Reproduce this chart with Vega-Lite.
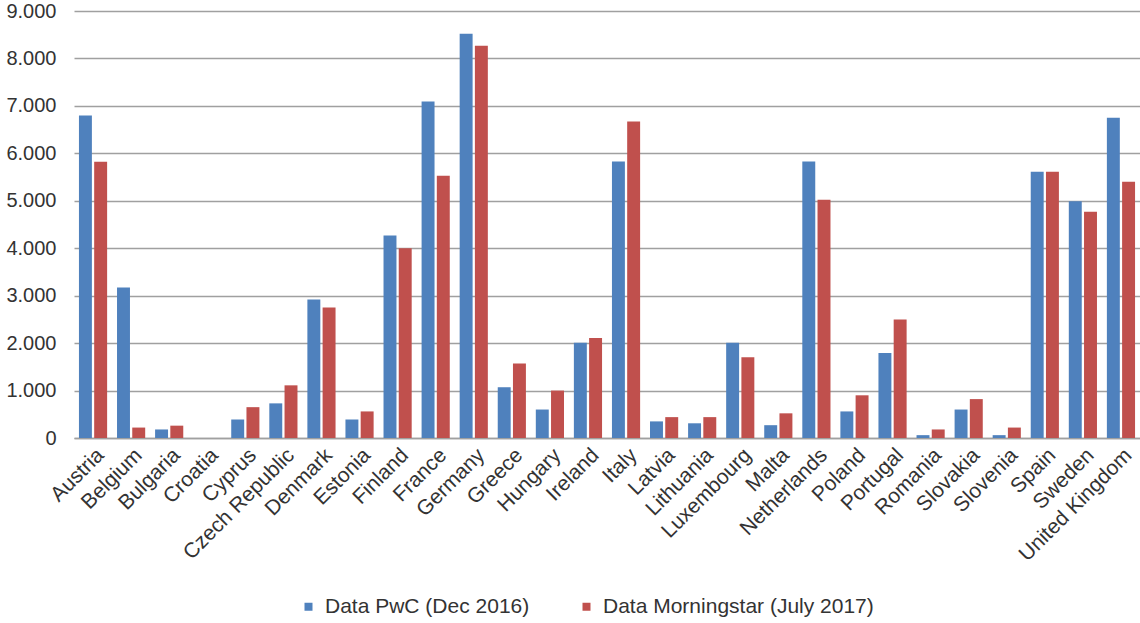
{
  "$schema": "https://vega.github.io/schema/vega-lite/v6.json",
  "width": 1066,
  "height": 427,
  "autosize": "none",
  "padding": {"left": 74, "top": 11, "right": 0, "bottom": 185},
  "background": "white",
  "data": {
    "values": [
      {"country": "Austria", "series": "Data PwC (Dec 2016)", "value": 6800},
      {"country": "Austria", "series": "Data Morningstar (July 2017)", "value": 5820},
      {"country": "Belgium", "series": "Data PwC (Dec 2016)", "value": 3170},
      {"country": "Belgium", "series": "Data Morningstar (July 2017)", "value": 220},
      {"country": "Bulgaria", "series": "Data PwC (Dec 2016)", "value": 180},
      {"country": "Bulgaria", "series": "Data Morningstar (July 2017)", "value": 260},
      {"country": "Croatia", "series": "Data PwC (Dec 2016)", "value": 0},
      {"country": "Croatia", "series": "Data Morningstar (July 2017)", "value": 0},
      {"country": "Cyprus", "series": "Data PwC (Dec 2016)", "value": 390},
      {"country": "Cyprus", "series": "Data Morningstar (July 2017)", "value": 650},
      {"country": "Czech Republic", "series": "Data PwC (Dec 2016)", "value": 730},
      {"country": "Czech Republic", "series": "Data Morningstar (July 2017)", "value": 1110},
      {"country": "Denmark", "series": "Data PwC (Dec 2016)", "value": 2920},
      {"country": "Denmark", "series": "Data Morningstar (July 2017)", "value": 2750},
      {"country": "Estonia", "series": "Data PwC (Dec 2016)", "value": 390},
      {"country": "Estonia", "series": "Data Morningstar (July 2017)", "value": 560},
      {"country": "Finland", "series": "Data PwC (Dec 2016)", "value": 4270},
      {"country": "Finland", "series": "Data Morningstar (July 2017)", "value": 4000},
      {"country": "France", "series": "Data PwC (Dec 2016)", "value": 7090},
      {"country": "France", "series": "Data Morningstar (July 2017)", "value": 5530},
      {"country": "Germany", "series": "Data PwC (Dec 2016)", "value": 8520},
      {"country": "Germany", "series": "Data Morningstar (July 2017)", "value": 8270},
      {"country": "Greece", "series": "Data PwC (Dec 2016)", "value": 1070},
      {"country": "Greece", "series": "Data Morningstar (July 2017)", "value": 1570},
      {"country": "Hungary", "series": "Data PwC (Dec 2016)", "value": 600},
      {"country": "Hungary", "series": "Data Morningstar (July 2017)", "value": 1000},
      {"country": "Ireland", "series": "Data PwC (Dec 2016)", "value": 2010},
      {"country": "Ireland", "series": "Data Morningstar (July 2017)", "value": 2110},
      {"country": "Italy", "series": "Data PwC (Dec 2016)", "value": 5830},
      {"country": "Italy", "series": "Data Morningstar (July 2017)", "value": 6670},
      {"country": "Latvia", "series": "Data PwC (Dec 2016)", "value": 350},
      {"country": "Latvia", "series": "Data Morningstar (July 2017)", "value": 440},
      {"country": "Lithuania", "series": "Data PwC (Dec 2016)", "value": 310},
      {"country": "Lithuania", "series": "Data Morningstar (July 2017)", "value": 440},
      {"country": "Luxembourg", "series": "Data PwC (Dec 2016)", "value": 2010},
      {"country": "Luxembourg", "series": "Data Morningstar (July 2017)", "value": 1700},
      {"country": "Malta", "series": "Data PwC (Dec 2016)", "value": 270},
      {"country": "Malta", "series": "Data Morningstar (July 2017)", "value": 520},
      {"country": "Netherlands", "series": "Data PwC (Dec 2016)", "value": 5830},
      {"country": "Netherlands", "series": "Data Morningstar (July 2017)", "value": 5020},
      {"country": "Poland", "series": "Data PwC (Dec 2016)", "value": 560},
      {"country": "Poland", "series": "Data Morningstar (July 2017)", "value": 900},
      {"country": "Portugal", "series": "Data PwC (Dec 2016)", "value": 1790},
      {"country": "Portugal", "series": "Data Morningstar (July 2017)", "value": 2500},
      {"country": "Romania", "series": "Data PwC (Dec 2016)", "value": 60},
      {"country": "Romania", "series": "Data Morningstar (July 2017)", "value": 180},
      {"country": "Slovakia", "series": "Data PwC (Dec 2016)", "value": 600},
      {"country": "Slovakia", "series": "Data Morningstar (July 2017)", "value": 820},
      {"country": "Slovenia", "series": "Data PwC (Dec 2016)", "value": 60},
      {"country": "Slovenia", "series": "Data Morningstar (July 2017)", "value": 220},
      {"country": "Spain", "series": "Data PwC (Dec 2016)", "value": 5610},
      {"country": "Spain", "series": "Data Morningstar (July 2017)", "value": 5610},
      {"country": "Sweden", "series": "Data PwC (Dec 2016)", "value": 4990},
      {"country": "Sweden", "series": "Data Morningstar (July 2017)", "value": 4770},
      {"country": "United Kingdom", "series": "Data PwC (Dec 2016)", "value": 6750},
      {"country": "United Kingdom", "series": "Data Morningstar (July 2017)", "value": 5400}
    ]
  },
  "mark": {"type": "bar"},
  "encoding": {
    "x": {
      "field": "country",
      "type": "nominal",
      "sort": null,
      "title": null,
      "scale": {"paddingInner": 0.26, "paddingOuter": 0.13},
      "axis": {
        "labelAngle": -45,
        "labelFont": "Liberation Sans",
        "labelFontSize": 21,
        "labelColor": "#333333",
        "ticks": false,
        "domainColor": "#a0a0a0",
        "domainWidth": 1.5,
        "labelPadding": 6,
        "labelLimit": 300
      }
    },
    "xOffset": {
      "field": "series",
      "type": "nominal",
      "sort": ["Data PwC (Dec 2016)", "Data Morningstar (July 2017)"],
      "scale": {"paddingInner": 0.15}
    },
    "y": {
      "field": "value",
      "type": "quantitative",
      "title": null,
      "scale": {"domain": [0, 9000], "nice": false},
      "axis": {
        "values": [0, 1000, 2000, 3000, 4000, 5000, 6000, 7000, 8000, 9000],
        "labelExpr": "replace(format(datum.value, ','), ',', '.')",
        "labelFont": "Liberation Sans",
        "labelFontSize": 20,
        "labelColor": "#333333",
        "labelPadding": 18,
        "ticks": false,
        "domain": false,
        "gridColor": "#a0a0a0",
        "gridWidth": 1.5
      }
    },
    "color": {
      "field": "series",
      "type": "nominal",
      "title": null,
      "sort": ["Data PwC (Dec 2016)", "Data Morningstar (July 2017)"],
      "scale": {
        "domain": ["Data PwC (Dec 2016)", "Data Morningstar (July 2017)"],
        "range": ["#4F81BD", "#C0504D"]
      },
      "legend": {
        "orient": "none",
        "direction": "horizontal",
        "legendX": 224,
        "legendY": 585,
        "symbolType": "square",
        "symbolSize": 64,
        "labelFont": "Liberation Sans",
        "labelFontSize": 21,
        "labelColor": "#333333",
        "labelOffset": 6,
        "columnPadding": 46,
        "labelLimit": 400
      }
    }
  },
  "config": {"view": {"stroke": null}}
}
